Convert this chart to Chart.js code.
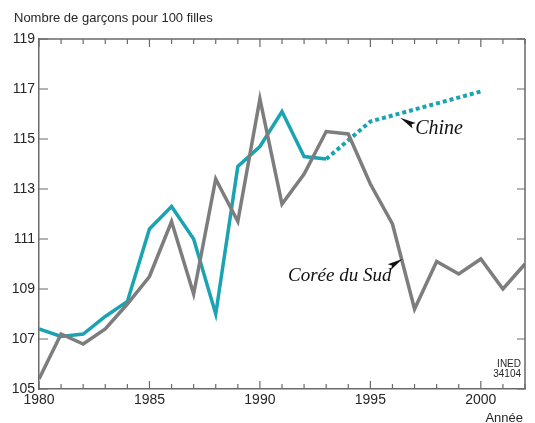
<!DOCTYPE html>
<html>
<head>
<meta charset="utf-8">
<script src="https://cdn.jsdelivr.net/npm/chart.js@4/dist/chart.umd.min.js"></script>
<style>
  html, body { margin: 0; padding: 0; background: #fff; }
  #wrap { width: 535px; height: 423px; position: relative; }
</style>
</head>
<body>
<div id="wrap"><canvas id="c" width="535" height="423"></canvas></div>
<script>
// Données
const annees = [1980, 1981, 1982, 1983, 1984, 1985, 1986, 1987, 1988, 1989, 1990, 1991,
                1992, 1993, 1994, 1995, 1996, 1997, 1998, 1999, 2000, 2001, 2002];
const coreeDuSud = [105.4, 107.2, 106.8, 107.4, 108.4, 109.5, 111.7, 108.8, 113.4, 111.7, 116.6, 112.4,
                    113.6, 115.3, 115.2, 113.2, 111.6, 108.2, 110.1, 109.6, 110.2, 109.0, 110.0];
const chine = [107.4, 107.1, 107.2, 107.9, 108.5, 111.4, 112.3, 111.0, 108.0, 113.9, 114.7, 116.1,
               114.3, 114.2, null, null, null, null, null, null, null, null, null];
// Estimations (pointillés)
const chineEstim = [null, null, null, null, null, null, null, null, null, null, null, null,
                    null, 114.2, null, 115.7, null, null, null, null, 116.9, null, null];
const xLabels = [1980, 1985, 1990, 1995, 2000];
const yTicks = [105, 107, 109, 111, 113, 115, 117, 119];

const gris = '#7d7d7d';
const bleu = '#1aa3b3';
const axe = '#6a6a6a';
const texte = '#262626';

const toPts = (vals) => annees.map((a, i) => ({ x: a, y: vals[i] }));

// Cadre, graduations intérieures et annotations
const decorPlugin = {
  id: 'decor',
  afterDraw(chart) {
    const { ctx, chartArea: a, scales: { x, y } } = chart;
    ctx.save();
    ctx.strokeStyle = axe;
    ctx.lineWidth = 1.5;
    // cadre
    ctx.beginPath();
    ctx.moveTo(a.left, a.top); ctx.lineTo(a.right, a.top);
    ctx.moveTo(a.right, a.top); ctx.lineTo(a.right, a.bottom);
    ctx.stroke();
    // graduations des années (haut et bas)
    ctx.lineWidth = 1.2;
    annees.forEach(an => {
      const px = x.getPixelForValue(an);
      const len = an % 5 === 0 ? 8 : 5;
      ctx.beginPath();
      ctx.moveTo(px, a.bottom); ctx.lineTo(px, a.bottom - len);
      ctx.moveTo(px, a.top); ctx.lineTo(px, a.top + len);
      ctx.stroke();
    });
    // graduations des valeurs (gauche et droite)
    yTicks.forEach(v => {
      const py = y.getPixelForValue(v);
      ctx.beginPath();
      ctx.moveTo(a.left, py); ctx.lineTo(a.left + 9, py);
      ctx.moveTo(a.right, py); ctx.lineTo(a.right - 8, py);
      ctx.stroke();
    });

    // titre de l'axe Y
    ctx.fillStyle = texte;
    ctx.font = '13px "Liberation Sans", Arial, sans-serif';
    ctx.textAlign = 'left';
    ctx.textBaseline = 'alphabetic';
    ctx.fillText('Nombre de garçons pour 100 filles', 14, 22);
    // titre de l'axe X
    ctx.textAlign = 'right';
    ctx.fillText('Année', 523, 422);
    // source
    ctx.font = '10px "Liberation Sans", Arial, sans-serif';
    ctx.fillText('INED', 521, 367);
    ctx.fillText('34104', 521, 377);

    // étiquettes des séries
    ctx.font = 'italic 20px "Liberation Serif", "Times New Roman", serif';
    ctx.fillStyle = '#111';
    const chX = x.getPixelForValue(1996.35), chY = y.getPixelForValue(115.85);
    ctx.textAlign = 'left';
    ctx.fillText('Chine', chX + 15, chY + 16);
    fleche(ctx, chX + 14, chY + 8, chX, chY);
    const coX = x.getPixelForValue(1996.45), coY = y.getPixelForValue(110.2);
    ctx.font = 'italic 19px "Liberation Serif", "Times New Roman", serif';
    ctx.textAlign = 'right';
    ctx.fillText('Corée du Sud', coX - 11, coY + 22);
    fleche(ctx, coX - 13, coY + 8, coX, coY);
    ctx.restore();
  }
};

// flèche en coin : pointe fine sur la courbe, base large côté texte
function fleche(ctx, x0, y0, x1, y1) {
  const ang = Math.atan2(y1 - y0, x1 - x0);
  const px = -Math.sin(ang), py = Math.cos(ang);
  const w = 3.2;
  const nx = x0 + 3 * Math.cos(ang), ny = y0 + 3 * Math.sin(ang);
  ctx.beginPath();
  ctx.moveTo(x1, y1);
  ctx.lineTo(x0 + px * w, y0 + py * w);
  ctx.lineTo(nx, ny);
  ctx.lineTo(x0 - px * w, y0 - py * w);
  ctx.closePath();
  ctx.fillStyle = '#111';
  ctx.fill();
}

new Chart(document.getElementById('c'), {
  type: 'line',
  data: {
    datasets: [
      {
        label: 'Corée du Sud',
        data: toPts(coreeDuSud),
        borderColor: gris,
        borderWidth: 3.5,
        pointRadius: 0,
        tension: 0
      },
      {
        label: 'Chine',
        data: toPts(chine),
        borderColor: bleu,
        borderWidth: 3.5,
        pointRadius: 0,
        tension: 0,
        spanGaps: false
      },
      {
        label: 'Chine (estimations)',
        data: toPts(chineEstim),
        borderColor: bleu,
        borderWidth: 4,
        borderDash: [4, 3],
        pointRadius: 0,
        tension: 0,
        spanGaps: true
      }
    ]
  },
  options: {
    responsive: false,
    animation: false,
    layout: { padding: { top: 39, right: 10, left: 0, bottom: 0 } },
    plugins: {
      legend: { display: false },
      tooltip: { enabled: false }
    },
    scales: {
      x: {
        type: 'linear',
        min: 1980,
        max: 2002,
        grid: { display: false, drawTicks: false },
        border: { display: true, color: axe, width: 1.5 },
        afterBuildTicks(s) { s.ticks = xLabels.map(v => ({ value: v })); },
        ticks: {
          padding: 3,
          autoSkip: false,
          maxRotation: 0,
          color: texte,
          font: { family: '"Liberation Sans", Arial, sans-serif', size: 14 },
          callback: v => String(v)
        },
        afterFit(s) { s.height = 34; }
      },
      y: {
        min: 105,
        max: 119,
        grid: { display: false, drawTicks: false },
        border: { display: true, color: axe, width: 1.5 },
        ticks: {
          stepSize: 2,
          padding: 4,
          color: texte,
          font: { family: '"Liberation Sans", Arial, sans-serif', size: 14 }
        },
        afterFit(s) { s.width = 39; }
      }
    }
  },
  plugins: [decorPlugin]
});
</script>
</body>
</html>
